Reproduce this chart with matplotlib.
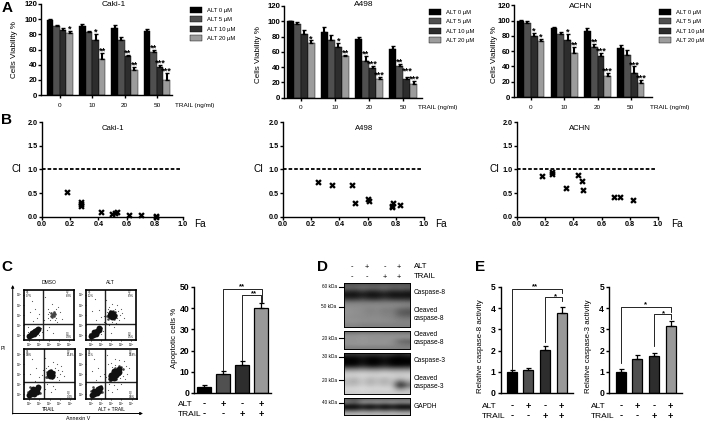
import matplotlib
matplotlib.use('Agg')
import matplotlib.pyplot as plt
import numpy as np

plt.rcParams['font.family'] = ['Liberation Sans', 'DejaVu Sans']
plt.rcParams['axes.linewidth'] = 1.0
plt.rcParams['mathtext.default'] = 'regular'

W, H = 708, 421

# panel A
ALT_LABELS = ['ALT 0 µM', 'ALT 5 µM', 'ALT 10 µM', 'ALT 20 µM']
ALT_COLORS = ['#000000', '#4f4f4f', '#2d2d2d', '#9c9c9c']
TRAIL_DOSES = ['0', '10', '20', '50']
VIAB_TICKS = [0, 20, 40, 60, 80, 100, 120]

caki_vals = [[99, 91, 86, 82], [91, 83, 73, 48], [88, 73, 52, 33], [84, 57, 37, 20]]
caki_errs = [[1, 1, 2, 3], [2, 1, 7, 8], [4, 4, 1, 4], [3, 2, 3, 9]]
caki_sig = [['', '', '', '*'], ['', '', '*', '**'], ['', '', '**', '**'], ['', '**', '***', '***']]

a498_vals = [[100, 97, 83, 72], [86, 76, 66, 54], [77, 48, 39, 24], [64, 41, 24, 18]]
a498_errs = [[1, 2, 5, 3], [6, 6, 6, 2], [3, 7, 3, 3], [4, 3, 3, 4]]
a498_sig = [['', '', '', '*'], ['', '', '*', '**'], ['', '**', '***', '***'], ['', '**', '***', '***']]

achn_vals = [[100, 97, 80, 73], [90, 83, 75, 58], [87, 66, 54, 27], [64, 55, 31, 18]]
achn_errs = [[1, 2, 4, 3], [2, 2, 7, 8], [3, 4, 4, 5], [4, 6, 9, 4]]
achn_sig = [['', '', '*', '*'], ['', '', '*', '**'], ['', '**', '***', '***'], ['', '', '***', '***']]

# panel B
caki_fa = [0.18, 0.28, 0.28, 0.28, 0.42, 0.50, 0.52, 0.53, 0.62, 0.70, 0.81, 0.81]
caki_ci = [0.53, 0.30, 0.26, 0.22, 0.09, 0.05, 0.07, 0.09, 0.03, 0.03, 0.01, 0.00]
a498_fa = [0.25, 0.35, 0.49, 0.51, 0.60, 0.61, 0.77, 0.77, 0.78, 0.83]
a498_ci = [0.74, 0.67, 0.68, 0.29, 0.38, 0.33, 0.20, 0.23, 0.28, 0.25]
achn_fa = [0.18, 0.25, 0.25, 0.35, 0.43, 0.46, 0.47, 0.69, 0.73, 0.82]
achn_ci = [0.85, 0.95, 0.91, 0.60, 0.88, 0.75, 0.56, 0.41, 0.41, 0.35]
FA_TICKS = [0.0, 0.2, 0.4, 0.6, 0.8, 1.0]
CI_TICKS = [0.0, 0.5, 1.0, 1.5, 2.0]

# panel C, flow plots (fraction of the plot range)
dmso_dense = [(.10, .08), (.13, .10), (.16, .12), (.19, .15), (.22, .17), (.25, .19), (.28, .21), (.15, .14), (.20, .12), (.24, .15)]
dmso_mid = [(.55, .50), (.58, .52), (.60, .48), (.56, .46), (.53, .53), (.62, .51), (.59, .55), (.54, .48), (.57, .49), (.60, .53)]
dmso_sparse = [(.16, .78), (.22, .62), (.30, .52), (.12, .55), (.25, .44), (.18, .38), (.42, .85), (.55, .72), (.68, .66), (.75, .42),
               (.40, .40), (.48, .62), (.66, .36), (.50, .25), (.58, .14), (.45, .20), (.34, .32), (.72, .55), (.64, .62), (.48, .44),
               (.50, .56), (.64, .44), (.08, .25), (.30, .10), (.33, .24), (.07, .16), (.35, .15), (.52, .40), (.61, .40), (.47, .52)]

alt_dense = [(.10, .07), (.13, .09), (.16, .12), (.19, .14), (.22, .17), (.25, .20), (.15, .15), (.20, .11), (.26, .23), (.50, .47),
             (.52, .50), (.54, .52), (.50, .53), (.55, .47), (.48, .50), (.52, .46)]
alt_mid = [(.46, .45), (.58, .56), (.46, .54), (.60, .50), (.44, .42), (.56, .42), (.53, .58), (.42, .48), (.30, .24), (.08, .12), (.58, .46), (.48, .58)]
alt_sparse = [(.18, .82), (.26, .60), (.12, .58), (.30, .46), (.20, .40), (.40, .80), (.52, .72), (.70, .62), (.76, .44), (.38, .62),
              (.66, .40), (.62, .70), (.45, .30), (.55, .26), (.50, .14), (.36, .36), (.72, .54), (.40, .34), (.64, .58), (.60, .34),
              (.34, .18), (.44, .62), (.68, .50), (.52, .36), (.30, .12), (.57, .62), (.42, .56), (.36, .48), (.62, .44), (.46, .66)]

trail_dense = [(.10, .08), (.13, .10), (.16, .13), (.19, .16), (.22, .18), (.25, .21), (.28, .24), (.14, .15), (.20, .11), (.25, .15),
               (.18, .21), (.50, .47), (.52, .50), (.54, .52), (.49, .50), (.54, .47), (.51, .54)]
trail_mid = [(.46, .45), (.58, .55), (.46, .54), (.59, .49), (.43, .44), (.55, .42), (.53, .58), (.08, .14), (.30, .20), (.12, .24), (.32, .12)]
trail_sparse = [(.16, .80), (.24, .62), (.12, .50), (.30, .44), (.22, .36), (.42, .82), (.56, .74), (.72, .66), (.78, .46), (.38, .58),
                (.68, .38), (.64, .70), (.46, .30), (.56, .26), (.52, .14), (.38, .34), (.74, .56), (.40, .40), (.66, .58), (.62, .34),
                (.44, .62), (.70, .50), (.60, .62), (.36, .48), (.48, .66), (.64, .44), (.60, .20), (.42, .20)]

combo_dense = [(.12, .09), (.15, .11), (.18, .14), (.21, .17), (.24, .20), (.27, .22), (.16, .17), (.22, .12), (.26, .16), (.50, .43),
               (.53, .46), (.56, .50), (.59, .53), (.62, .57), (.65, .60), (.55, .43), (.60, .48), (.50, .49), (.56, .56), (.63, .52), (.66, .55)]
combo_mid = [(.46, .40), (.70, .64), (.46, .47), (.58, .62), (.68, .55), (.52, .54), (.72, .60), (.48, .36), (.60, .40), (.66, .66), (.10, .16), (.30, .26), (.32, .14), (.14, .24)]
combo_sparse = [(.16, .80), (.24, .62), (.12, .56), (.28, .46), (.20, .38), (.42, .88), (.58, .80), (.74, .76), (.80, .50), (.38, .60),
                (.76, .40), (.66, .78), (.46, .30), (.56, .28), (.52, .14), (.38, .38), (.84, .62), (.40, .44), (.78, .66), (.64, .34),
                (.44, .70), (.72, .46), (.50, .72), (.36, .50), (.52, .64), (.68, .42), (.62, .20), (.44, .18), (.70, .30), (.58, .68)]

FLOW_TITLES = ['DMSO', 'ALT', 'TRAIL', 'ALT + TRAIL']
FLOW_PCT = [['0.7%', '8.3%', '0.3%'], ['1.2%', '8.9%', '0.5%'], ['0.8%', '13.4%', '0.4%'], ['1.1%', '39.8%', '0.6%']]

# panel C, bars
apop_vals = [3, 9, 13, 40]
apop_errs = [0.6, 1.2, 2.0, 2.3]
BAR_COLORS = ['#000000', '#505050', '#2d2d2d', '#999999']
ALT_SIGNS = ['-', '+', '-', '+']
TRAIL_SIGNS = ['-', '-', '+', '+']

# panel D, blot intensity read by eye (0 black, 1 white), one row per strip of the blot
blot_casp8 = [[.30, .30, .32, .30, .30, .32, .30, .30, .30],
              [.42, .40, .45, .42, .42, .45, .40, .42, .40],
              [.18, .15, .25, .15, .18, .25, .15, .18, .15],
              [.05, .04, .10, .04, .05, .10, .04, .05, .04],
              [.22, .20, .28, .20, .20, .28, .20, .20, .20],
              [.50, .50, .50, .50, .50, .50, .50, .50, .48],
              [.56, .55, .55, .54, .55, .54, .54, .52, .50],
              [.58, .56, .55, .50, .54, .48, .50, .38, .35],
              [.58, .56, .55, .52, .54, .50, .52, .36, .34],
              [.56, .55, .55, .54, .55, .53, .52, .46, .45],
              [.58, .58, .56, .56, .56, .55, .55, .52, .52],
              [.52, .52, .50, .50, .50, .50, .50, .50, .50]]
blot_casp8_low = [[.40, .40, .42, .42, .42, .42, .42, .42, .40],
                  [.56, .56, .58, .56, .58, .56, .56, .56, .56],
                  [.58, .58, .60, .58, .56, .58, .58, .56, .56],
                  [.58, .58, .58, .58, .58, .58, .56, .42, .38],
                  [.58, .58, .60, .58, .58, .58, .56, .48, .46],
                  [.50, .50, .50, .50, .50, .50, .50, .50, .50]]
blot_casp3 = [[.20, .20, .22, .20, .20, .22, .20, .12, .20],
              [.02, .00, .10, .00, .02, .10, .00, .00, .02],
              [.00, .00, .06, .00, .00, .06, .00, .00, .00],
              [.04, .02, .14, .02, .04, .14, .02, .02, .04],
              [.40, .40, .45, .40, .40, .45, .40, .40, .42],
              [.72, .72, .75, .72, .72, .75, .72, .72, .72],
              [.82, .82, .84, .82, .82, .84, .82, .80, .82],
              [.76, .70, .82, .70, .78, .70, .80, .70, .78],
              [.72, .66, .80, .66, .76, .66, .78, .30, .62],
              [.76, .74, .82, .74, .80, .74, .80, .05, .45],
              [.84, .84, .86, .84, .84, .84, .84, .50, .72],
              [.80, .80, .82, .80, .80, .80, .80, .78, .78]]
blot_gapdh = [[.35, .30, .40, .40, .40, .40, .40, .40, .40],
              [.50, .35, .62, .55, .62, .55, .62, .55, .58],
              [.14, .10, .22, .12, .22, .12, .22, .12, .14],
              [.06, .04, .16, .04, .16, .04, .14, .04, .06],
              [.42, .40, .50, .42, .50, .42, .50, .42, .44],
              [.70, .70, .72, .70, .72, .70, .72, .70, .70]]

# panel E
casp8_vals = [1.0, 1.07, 2.03, 3.78]
casp8_errs = [0.1, 0.13, 0.18, 0.3]
casp3_vals = [1.0, 1.6, 1.75, 3.15]
casp3_errs = [0.15, 0.2, 0.15, 0.25]
ACT_TICKS = [0, 1, 2, 3, 4, 5]


def px_axes(left, top, right, bottom):
    # axes box given in picture pixels
    return fig.add_axes([left / W, 1 - bottom / H, (right - left) / W, (bottom - top) / H])


fig = plt.figure(figsize=(W / 100, H / 100), dpi=100)
page = fig.add_axes([0, 0, 1, 1], zorder=10)
page.set_xlim(0, W)
page.set_ylim(H, 0)
page.axis('off')
page.patch.set_alpha(0)


def label(x, y, s, size=5, **kw):
    kw.setdefault('ha', 'center')
    kw.setdefault('va', 'center')
    page.text(x, y, s, fontsize=size, **kw)


def clean(ax, lw=1.0):
    ax.spines['top'].set_visible(False)
    ax.spines['right'].set_visible(False)
    ax.spines['left'].set_linewidth(lw)
    ax.spines['bottom'].set_linewidth(lw)
    ax.patch.set_alpha(0)


def viability(box, first, step, vals, errs, sig, title_xy, ylab_xy, trail_xy, leg_xy, lift={}):
    ax = px_axes(*box)
    width = (box[2] - box[0]) / step
    ax.set_xlim(-first, width - first)
    ax.set_ylim(0, 120)
    group = 4.9
    for g in range(4):
        for b in range(4):
            xb = g * group + b
            ax.bar(xb, vals[g][b], width=1.0, color=ALT_COLORS[b], edgecolor='black', linewidth=0.3,
                   label=ALT_LABELS[b] if g == 0 else None)
            ax.errorbar(xb, vals[g][b], yerr=[[0], [errs[g][b]]], color='black', lw=1.5, capsize=1.2, capthick=1)
            if sig[g][b]:
                ax.text(xb, vals[g][b] + errs[g][b] - 3.5 + lift.get((g, b), 0), sig[g][b], ha='center', va='bottom',
                        fontsize=6.6, fontweight='bold', clip_on=False)
    ax.set_yticks(VIAB_TICKS)
    ax.set_xticks([g * group + 1.5 for g in range(4)])
    ax.set_xticklabels(TRAIL_DOSES, fontsize=4.6)
    ax.tick_params(axis='y', labelsize=5.6, length=2, width=1, pad=0.8)
    ax.tick_params(axis='x', length=2, width=1, pad=3.5)
    for t in ax.get_yticklabels():
        t.set_fontweight('bold')
    clean(ax)
    label(*title_xy[:2], title_xy[2], 6)
    label(*ylab_xy, 'Cells Viability %', 5.8, rotation=90)
    label(*trail_xy, 'TRAIL (ng/ml)', 4.6, ha='left')
    ax.legend(loc='upper left', bbox_to_anchor=(leg_xy[0] / W, 1 - leg_xy[1] / H), bbox_transform=fig.transFigure,
              frameon=False, fontsize=4.2, borderpad=0, borderaxespad=0, handlelength=2.05, handleheight=1.2,
              handletextpad=0.85, labelspacing=0.57)


viability((41, 4, 172, 95), 1.36, 6.6, caki_vals, caki_errs, caki_sig, (114, 5, 'Caki-1'), (14, 50), (175, 105), (190, 7))
viability((284, 6, 422, 97.7), 0.86, 7.0, a498_vals, a498_errs, a498_sig, (364, 4, 'A498'), (259, 55), (418, 107), (429, 9), {(3, 2): 5})
viability((514, 5.3, 652, 97), 0.98, 6.8, achn_vals, achn_errs, achn_sig, (581, 7, 'ACHN'), (494, 55), (650, 107), (659, 9))


def combo(box, fa, ci, title_x, ci_x, fa_x, name):
    ax = px_axes(*box)
    ax.set_xlim(0, 1)
    ax.set_ylim(0, 2)
    ax.plot([0, 0.985], [1, 1], color='black', lw=1.3, dashes=(2.0, 1.1))
    ax.scatter(fa, ci, marker='X', s=22, color='black', linewidths=0, clip_on=False, zorder=3)
    ax.set_xticks(FA_TICKS)
    ax.set_yticks(CI_TICKS)
    ax.set_xticklabels(['%.1f' % v for v in FA_TICKS], fontsize=5.2, fontweight='bold')
    ax.set_yticklabels(['%.1f' % v for v in CI_TICKS], fontsize=5.2, fontweight='bold')
    ax.tick_params(length=2, width=1, pad=1)
    clean(ax)
    label(title_x, 128, name, 5.6)
    label(ci_x, 169, 'CI', 7.2)
    label(fa_x, 224, 'Fa', 7.2)


combo((42, 122, 183, 216.7), caki_fa, caki_ci, 113, 17, 200, 'Caki-1')
combo((283, 122, 424, 216.7), a498_fa, a498_ci, 364, 259, 441, 'A498')
combo((517, 122, 658, 216.7), achn_fa, achn_ci, 580, 494, 677, 'ACHN')

# panel C flow plots
flow_boxes = [(24, 289.7, 74, 340), (86, 289.7, 136, 340), (24, 349.3, 75, 399.3), (86, 349.3, 136.7, 399.3)]
flow_gates = [(.37, .32), (.38, .32), (.39, .34), (.37, .34)]
flow_dense = [dmso_dense, alt_dense, trail_dense, combo_dense]
flow_mid = [dmso_mid, alt_mid, trail_mid, combo_mid]
flow_sparse = [dmso_sparse, alt_sparse, trail_sparse, combo_sparse]
for i in range(4):
    ax = px_axes(*flow_boxes[i])
    ax.set_xlim(0, 1)
    ax.set_ylim(0, 1)
    for pts, size, shade in [(flow_sparse[i], 0.7, '#555555'), (flow_mid[i], 3.5, '#444444'), (flow_dense[i], 18, '#111111')]:
        xs, ys = zip(*pts)
        ax.scatter(xs, ys, s=size, color=shade, linewidths=0)
    ax.axvline(flow_gates[i][0], color='#222222', lw=1.0)
    ax.axhline(flow_gates[i][1], color='#222222', lw=1.0)
    ax.set_xticks([.1, .3, .5, .7, .9])
    ax.set_yticks([.1, .3, .5, .7, .9])
    ax.set_xticklabels(['$10^{%d}$' % n for n in range(5)], fontsize=2.2)
    ax.set_yticklabels(['$10^{%d}$' % n for n in range(5)], fontsize=2.2)
    ax.tick_params(length=1, width=0.5, pad=0.2)
    for sp in ax.spines.values():
        sp.set_linewidth(1.2)
    ax.text(.04, .86, 'Q1\n' + FLOW_PCT[i][0], transform=ax.transAxes, fontsize=1.9, linespacing=0.9)
    ax.text(.84, .86, 'Q2\n' + FLOW_PCT[i][1], transform=ax.transAxes, fontsize=1.9, linespacing=0.9)
    ax.text(.84, .03, 'Q3\n' + FLOW_PCT[i][2], transform=ax.transAxes, fontsize=1.9, linespacing=0.9)

label(49, 283, FLOW_TITLES[0], 3.6)
label(110, 283, FLOW_TITLES[1], 3.6)
label(48, 409.5, FLOW_TITLES[2], 3.4)
label(111, 409.5, FLOW_TITLES[3], 3.4)
label(78, 418, 'Annexin V', 3.8)
label(3.5, 349, 'PI', 3.8)
page.annotate('', xy=(12.7, 285), xytext=(12.7, 414), arrowprops=dict(arrowstyle='-|>', color='black', lw=0.7, mutation_scale=4, shrinkA=0, shrinkB=0))
page.annotate('', xy=(143, 413.5), xytext=(12.4, 413.5), arrowprops=dict(arrowstyle='-|>', color='black', lw=0.7, mutation_scale=4, shrinkA=0, shrinkB=0))


def bar_panel(box, first, step, bwidth, vals, errs, ymax, yticks, ylab, ylab_xy, brackets, signs_x, alt_y, trail_y, tick_size):
    ax = px_axes(*box)
    ax.set_xlim(-first, (box[2] - box[0]) / step - first)
    ax.set_ylim(0, ymax)
    for i in range(4):
        ax.bar(i, vals[i], width=bwidth, color=BAR_COLORS[i], edgecolor='black', linewidth=0.9)
        ax.errorbar(i, vals[i], yerr=[[0], [errs[i]]], color='black', lw=0.9, capsize=1.8, capthick=0.9)
    for x0, y0, x1, y1, top, stars, sx, sy in brackets:
        ax.plot([x0, x0, x1, x1], [y0, top, top, y1], color='black', lw=0.6, clip_on=False)
        ax.text(sx, sy, stars, ha='center', va='center', fontsize=5.6, fontweight='bold', clip_on=False)
    ax.set_xticks([])
    ax.set_yticks(yticks)
    ax.tick_params(axis='y', length=2.5, width=1, pad=1, labelsize=tick_size)
    for t in ax.get_yticklabels():
        t.set_fontweight('bold')
    clean(ax)
    label(*ylab_xy, ylab, 5.7, rotation=90)
    for i in range(4):
        xp = box[0] + (i + first) * step
        label(xp, alt_y, ALT_SIGNS[i], 6.6, fontweight='bold')
        label(xp, trail_y, TRAIL_SIGNS[i], 6.6, fontweight='bold')
    label(signs_x, alt_y, 'ALT', 6, ha='left')
    label(signs_x, trail_y, 'TRAIL', 6, ha='left')


label(7, 8, 'A', 11, fontweight='bold')
label(7, 120, 'B', 11, fontweight='bold')
label(6.5, 267, 'C', 11, fontweight='bold')
label(323, 267, 'D', 11, fontweight='bold')
label(480, 267, 'E', 11, fontweight='bold')

bar_panel((194, 287, 271, 393), 0.53, 19, 0.78, apop_vals, apop_errs, 50, [0, 10, 20, 30, 40, 50],
          'Apoptotic cells %', (175, 338), [(1, 11, 3.05, 42.8, 49.2, '**', 2.0, 50.2), (2, 15.8, 3, 42.8, 46.2, '**', 2.6, 46.8)],
          178, 404, 414, 6.2)
bar_panel((500.7, 287, 573, 393), 0.67, 16.6, 0.6, casp8_vals, casp8_errs, 5, ACT_TICKS,
          'Relative caspase-8 activity', (480, 346), [(0, 1.15, 3, 4.7, 4.9, '**', 1.4, 5.0), (2, 2.4, 3, 4.35, 4.55, '*', 2.6, 4.56)],
          482, 406, 416, 6.2)
bar_panel((609, 287, 682, 393), 0.70, 16.7, 0.6, casp3_vals, casp3_errs, 5, ACT_TICKS,
          'Relative caspase-3 activity', (589, 346), [(0, 1.4, 3.02, 3.83, 4.07, '*', 1.5, 4.16), (2, 2.2, 3, 3.5, 3.72, '*', 2.55, 3.76)],
          591, 406, 416, 6.2)

# panel D
blots = [(blot_casp8, 283, 327), (blot_casp8_low, 331, 349), (blot_casp3, 353, 394), (blot_gapdh, 398, 415)]
for strip, top, bottom in blots:
    ax = px_axes(344, top, 410, bottom)
    ax.imshow(np.array(strip), cmap='gray', vmin=0, vmax=1, aspect='auto', interpolation='bicubic')
    ax.set_xticks([])
    ax.set_yticks([])
    for sp in ax.spines.values():
        sp.set_linewidth(0.7)

for kda, yp in [('60 kDa', 287), ('50 kDa', 307), ('20 kDa', 338), ('30 kDa', 357), ('20 kDa', 380), ('40 kDa', 403)]:
    label(336.5, yp, kda, 3.4, ha='right')
    page.plot([338.5, 344], [yp, yp], color='black', lw=0.8)

for xp, a_s, t_s in zip([352, 367, 385, 399], ALT_SIGNS, TRAIL_SIGNS):
    label(xp, 267, a_s, 5.4)
    label(xp, 277, t_s, 5.4)
label(414, 267, 'ALT', 5.6, ha='left')
label(414, 277, 'TRAIL', 5.6, ha='left')
for txt, yp in [('Caspase-8', 292), ('Cleaved', 310), ('caspase-8', 318), ('Cleaved', 334), ('caspase-8', 342),
                ('Caspase-3', 360), ('Cleaved', 379), ('caspase-3', 387), ('GAPDH', 406)]:
    label(414, yp, txt, 4.8, ha='left')

fig.savefig('out.png', dpi=100)
